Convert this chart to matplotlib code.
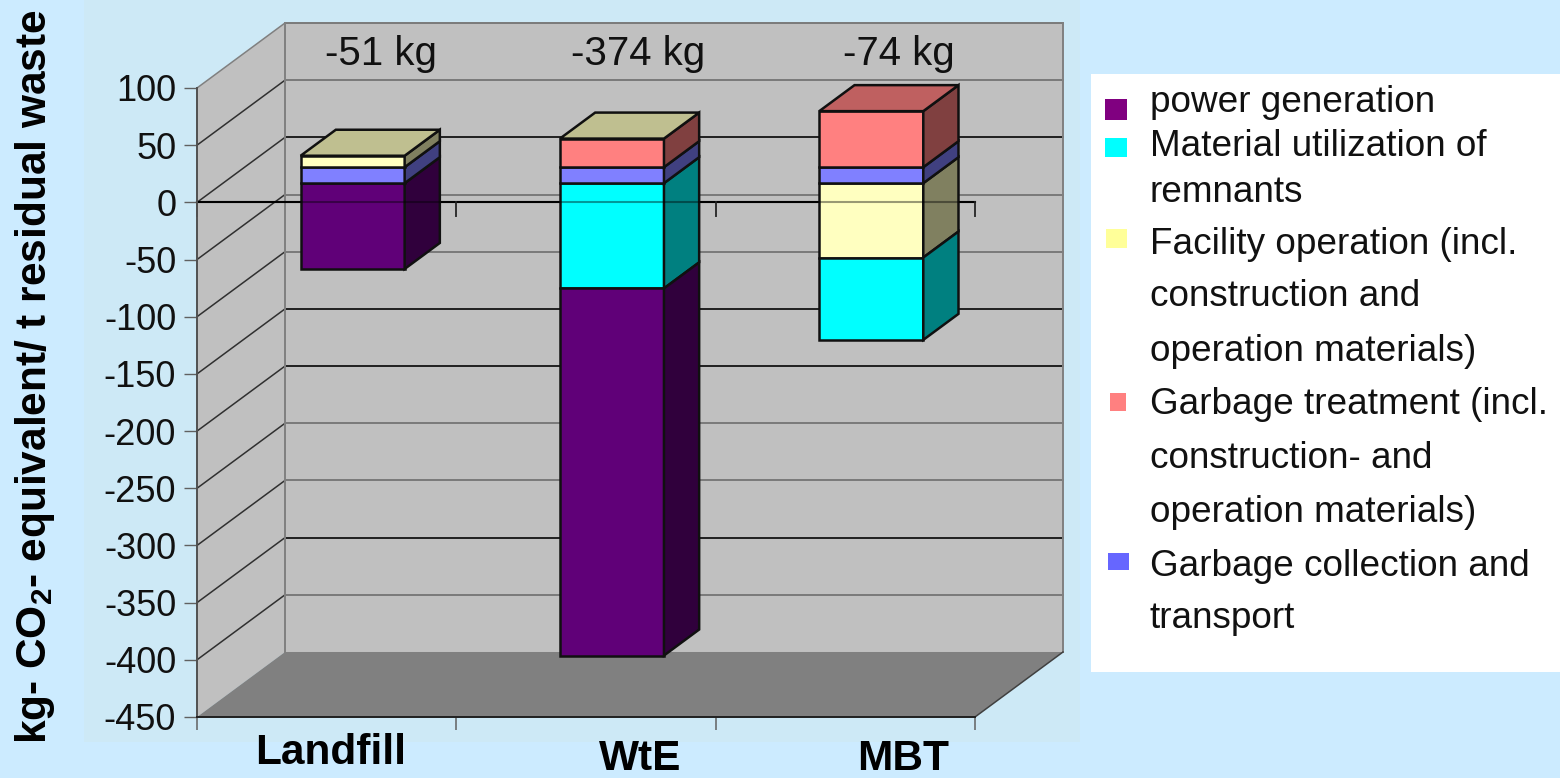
import matplotlib
matplotlib.use("Agg")
import matplotlib.pyplot as plt
from matplotlib.patches import Rectangle

plt.rcParams["font.family"] = ["Liberation Sans", "DejaVu Sans"]
plt.rcParams["mathtext.fontset"] = "custom"
plt.rcParams["mathtext.rm"] = "Liberation Sans"
plt.rcParams["mathtext.bf"] = "Liberation Sans:bold"

# ----------------------------
# Data
# ----------------------------

categories = ["Landfill", "WtE", "MBT"]
net_labels = ["-51 kg", "-374 kg", "-74 kg"]

power = [-75, -321, 0]
material = [0, -92, -72]
facility = [10, 0, -65]
treatment = [0, 25, 49]
transport = [14, 14, 14]

y_ticks = [100, 50, 0, -50, -100, -150, -200, -250, -300, -350, -400, -450]
y_tick_labels = ["100", "50", "0", "-50", "-100", "-150", "-200", "-250", "-300", "-350", "-400", "-450"]
dark_gridlines = [0, -150, -200, -350]

legend_lines = [
    "power generation", "Material utilization of", "remnants",
    "Facility operation (incl.", "construction and", "operation materials)",
    "Garbage treatment (incl.", "construction- and", "operation materials)",
    "Garbage collection and", "transport",
]

# ----------------------------
# Layout and colours
# ----------------------------

W, H = 1560, 778
FIG_BG = "#CCEBFF"
PANEL_BG = "#CDE9F6"
WALL = "#C0C0C0"
FLOOR = "#808080"
EDGE = "#808080"
BAR_EDGE = "#101010"

# front, side and top colour of each series
C_POWER = ("#600078", "#30003C", "#48005A")
C_MATERIAL = ("#00FFFF", "#008080", "#00BFBF")
C_FACILITY = ("#FFFFC0", "#808060", "#BFBF90")
C_TREATMENT = ("#FF8080", "#804040", "#BF6060")
C_TRANSPORT = ("#8080FF", "#404080", "#6060BF")

# depth of the box in data units, and where the bars sit inside it
DX = 88 / 259.33
DY = 65 / 1.1436
BAR_FRONT = 0.295
BAR_DEPTH = 0.40
BAR_WIDTH = 104 / 259.33


def fx(px):
    return px / W


def fy(py):
    return 1 - py / H


fig = plt.figure(figsize=(W / 100, H / 100), dpi=100, facecolor=FIG_BG)
fig.add_artist(Rectangle((fx(84), fy(742)), (1080 - 84) / W, 742 / H,
                         transform=fig.transFigure, color=PANEL_BG, lw=0, zorder=-1))

ax = fig.add_axes([fx(197), fy(717), (975 - 197) / W, (717 - 88) / H])
ax.set_xlim(0, 3)
ax.set_ylim(-450, 100)
ax.patch.set_visible(False)

# ----------------------------
# Box walls, floor, gridlines
# ----------------------------

ax.fill([0, DX, DX, 0], [-450, -450 + DY, 100 + DY, 100], color=WALL, lw=0, clip_on=False, zorder=1)
ax.fill([DX, 3 + DX, 3 + DX, DX], [-450 + DY, -450 + DY, 100 + DY, 100 + DY], color=WALL, lw=0, clip_on=False, zorder=1)
ax.fill([0, 3, 3 + DX, DX], [-450, -450, -450 + DY, -450 + DY], color=FLOOR, lw=0, clip_on=False, zorder=1)

for v in y_ticks:
    if v == -450:
        continue
    side_color = EDGE if v == 100 else "#303030"
    ax.plot([0, DX], [v, v + DY], color=side_color, lw=1.1, clip_on=False, zorder=2)
    back_color = "#202020" if v in dark_gridlines else "#7A7A7A"
    ax.plot([DX, 3 + DX], [v + DY, v + DY], color=back_color, lw=1.4, clip_on=False, zorder=2)

ax.plot([DX, DX], [-450 + DY, 100 + DY], color=EDGE, lw=1.4, clip_on=False, zorder=2)
ax.plot([3 + DX, 3 + DX], [-450 + DY, 100 + DY], color=EDGE, lw=1.4, clip_on=False, zorder=2)
ax.plot([3, 3 + DX], [-450, -450 + DY], color="#404040", lw=1.1, clip_on=False, zorder=2)

# zero line with its category ticks
ax.plot([0, 3], [0, 0], color="black", lw=1.5, zorder=2, clip_on=False)
for x in [0, 1, 2, 3]:
    ax.plot([x, x], [0, -12], color="#303030", lw=1.4, zorder=2, clip_on=False)

# ----------------------------
# Stacked bars
# ----------------------------

below_zero = [(facility, C_FACILITY), (material, C_MATERIAL), (power, C_POWER)]
above_zero = [(transport, C_TRANSPORT), (treatment, C_TREATMENT), (facility, C_FACILITY)]


def draw_segment(i, low, high, colors):
    x0 = i + 0.5 + BAR_FRONT * DX - BAR_WIDTH / 2
    y_shift = BAR_FRONT * DY
    dx = BAR_DEPTH * DX
    dy = BAR_DEPTH * DY
    x1 = x0 + BAR_WIDTH
    ax.bar(x0, high - low, width=BAR_WIDTH, bottom=low + y_shift, align="edge",
           color=colors[0], edgecolor=BAR_EDGE, lw=1.8, clip_on=False, zorder=4)
    ax.fill([x1, x1 + dx, x1 + dx, x1],
            [low + y_shift, low + y_shift + dy, high + y_shift + dy, high + y_shift],
            facecolor=colors[1], edgecolor=BAR_EDGE, lw=1.8, clip_on=False, zorder=4)


def draw_top(i, level, colors):
    x0 = i + 0.5 + BAR_FRONT * DX - BAR_WIDTH / 2
    y0 = level + BAR_FRONT * DY
    dx = BAR_DEPTH * DX
    dy = BAR_DEPTH * DY
    ax.fill([x0, x0 + BAR_WIDTH, x0 + BAR_WIDTH + dx, x0 + dx],
            [y0, y0, y0 + dy, y0 + dy],
            facecolor=colors[2], edgecolor=BAR_EDGE, lw=1.8, clip_on=False, zorder=4)


for i in range(len(categories)):
    level = 0
    for series, colors in below_zero:
        if series[i] < 0:
            draw_segment(i, level + series[i], level, colors)
            level += series[i]
    level = 0
    top_colors = None
    for series, colors in above_zero:
        if series[i] >= 0:
            if series[i] > 0:
                draw_segment(i, level, level + series[i], colors)
            level += series[i]
            top_colors = colors
    draw_top(i, level, top_colors)

# zero line shows faintly through the bars
ax.plot([0, 3], [0, 0], color="black", lw=1.5, alpha=0.4, zorder=5, clip_on=False)

# ----------------------------
# Axes and text
# ----------------------------

for side in ["top", "right"]:
    ax.spines[side].set_visible(False)
ax.spines["left"].set_color("#505050")
ax.spines["left"].set_linewidth(1.4)
ax.spines["bottom"].set_color("#202020")
ax.spines["bottom"].set_linewidth(1.4)
for s in ax.spines.values():
    s.set_zorder(6)

ax.set_yticks(y_ticks)
ax.set_yticklabels(y_tick_labels, fontsize=26, color="#111111")
ax.tick_params(axis="y", length=9.5, width=1, color="#606060", pad=5.5)
ax.set_xticks([0, 1, 2, 3])
ax.set_xticklabels([])
ax.tick_params(axis="x", length=9.5, width=1.1, color="#606060")

for label, cx in zip(net_labels, [381, 638, 899]):
    fig.text(fx(cx), fy(54), label, fontsize=29, color="#111111", ha="center", va="center", zorder=8)

for label, cx, cy in zip(categories, [331, 640, 903], [753, 759, 759]):
    fig.text(fx(cx), fy(cy), label, fontsize=30.5, fontweight="bold", color="black", ha="center", va="center")

fig.text(fx(35), fy(377), r"kg- CO$_{\mathbf{2}}$- equivalent/ t residual waste",
         fontsize=30.5, fontweight="bold", rotation=90, ha="center", va="center", color="black")

# ----------------------------
# Legend box
# ----------------------------

fig.add_artist(Rectangle((fx(1091), fy(672)), (W - 1091) / W, (672 - 74) / H,
                         transform=fig.transFigure, color="white", lw=0, zorder=9))

legend_y = [102, 147, 192, 244, 297, 351, 405, 458, 512, 566, 619]
for text, py in zip(legend_lines, legend_y):
    fig.text(fx(1150), fy(py), text, fontsize=26.6, color="#111111", va="center", ha="left", zorder=10)

swatches = [
    ("#800080", 1105, 99, 22, 21),
    ("#00FFFF", 1105, 138, 22, 19),
    ("#FFFF99", 1106, 229, 21, 19),
    ("#FF8080", 1110, 393, 16, 18),
    ("#6666FF", 1108, 553, 21, 17),
]
for color, px, py, pw, ph in swatches:
    fig.add_artist(Rectangle((fx(px), fy(py + ph)), pw / W, ph / H,
                             transform=fig.transFigure, color=color, lw=0, zorder=10))

fig.savefig("out.png", dpi=100, facecolor=FIG_BG)
